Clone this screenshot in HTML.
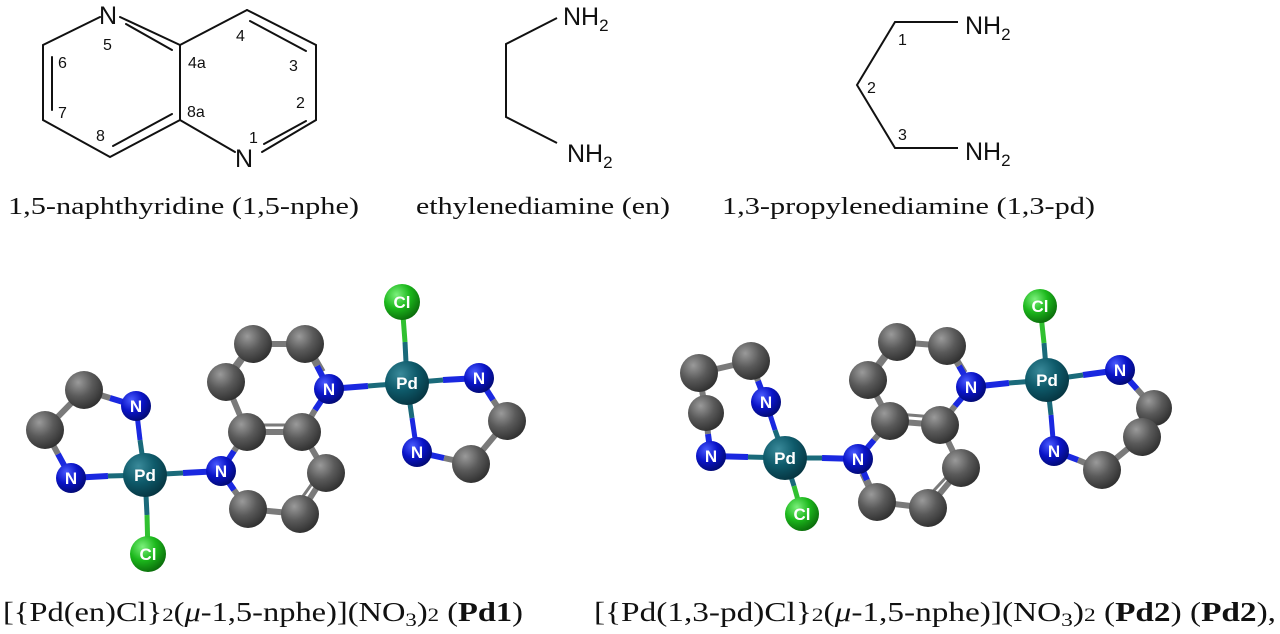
<!DOCTYPE html>
<html><head><meta charset="utf-8"><style>
html,body{margin:0;padding:0;background:#fff;}
svg{display:block;}
.t{font-family:"Liberation Serif","Times New Roman",serif;fill:#111;}
.s{font-family:"Liberation Sans",sans-serif;fill:#111;}
.lab{font-family:"Liberation Sans",sans-serif;font-weight:bold;fill:#fff;text-anchor:middle;}
</style></head><body>
<svg width="1280" height="634" viewBox="0 0 1280 634" xmlns="http://www.w3.org/2000/svg">
<defs>
<radialGradient id="gC" cx="0.35" cy="0.3" r="0.75"><stop offset="0" stop-color="#9a9a9a"/><stop offset="0.5" stop-color="#5a5a5a"/><stop offset="1" stop-color="#2e2e2e"/></radialGradient>
<radialGradient id="gN" cx="0.35" cy="0.3" r="0.75"><stop offset="0" stop-color="#4a5cff"/><stop offset="0.5" stop-color="#0a14c8"/><stop offset="1" stop-color="#020a70"/></radialGradient>
<radialGradient id="gP" cx="0.35" cy="0.3" r="0.75"><stop offset="0" stop-color="#3a8a9a"/><stop offset="0.5" stop-color="#0e5a6a"/><stop offset="1" stop-color="#063440"/></radialGradient>
<radialGradient id="gL" cx="0.35" cy="0.3" r="0.75"><stop offset="0" stop-color="#7cf07c"/><stop offset="0.5" stop-color="#1cb81c"/><stop offset="1" stop-color="#0a6a0a"/></radialGradient>
</defs>

<g stroke="#111" stroke-width="2" fill="none" stroke-linecap="round">
<polyline points="100,17 43,45 43,120 110,157 180,120 235,152"/>
<line x1="120" y1="17" x2="180" y2="45"/>
<line x1="180" y1="45" x2="180" y2="120"/>
<line x1="180" y1="45" x2="247" y2="10"/>
<polyline points="247,10 316,45 316,120 262,152"/>
<line x1="126" y1="24" x2="172" y2="50"/>
<line x1="52" y1="57" x2="52" y2="110"/>
<line x1="113" y1="146" x2="172" y2="114"/>
<line x1="250" y1="21" x2="306" y2="51"/>
<line x1="264" y1="144" x2="306" y2="121"/>
</g>
<g class="s">
<text x="99" y="24" font-size="25">N</text>
<text x="235" y="167" font-size="25">N</text>
<text x="103" y="50" font-size="16">5</text>
<text x="58" y="68" font-size="16">6</text>
<text x="58" y="118" font-size="16">7</text>
<text x="96" y="141" font-size="16">8</text>
<text x="188" y="68" font-size="16">4a</text>
<text x="187" y="117" font-size="16">8a</text>
<text x="236" y="41" font-size="16">4</text>
<text x="289" y="71" font-size="16">3</text>
<text x="296" y="108" font-size="16">2</text>
<text x="249" y="143" font-size="16">1</text>
</g>

<polyline points="557,18 506,44 506,117 557,143" stroke="#111" stroke-width="2" fill="none"/>
<text class="s" x="563" y="25" font-size="25">NH<tspan font-size="17" dy="6">2</tspan></text>
<text class="s" x="567" y="162" font-size="25">NH<tspan font-size="17" dy="6">2</tspan></text>

<polyline points="958,22 895,22 857,85 895,148 958,148" stroke="#111" stroke-width="2" fill="none"/>
<text class="s" x="965" y="34" font-size="25">NH<tspan font-size="17" dy="6">2</tspan></text>
<text class="s" x="965" y="160" font-size="25">NH<tspan font-size="17" dy="6">2</tspan></text>
<text class="s" x="898" y="45" font-size="16">1</text>
<text class="s" x="867" y="93" font-size="16">2</text>
<text class="s" x="898" y="140" font-size="16">3</text>

<g class="t" font-size="24">
<text x="8" y="214" textLength="351" lengthAdjust="spacingAndGlyphs">1,5-naphthyridine (1,5-nphe)</text>
<text x="416" y="214" textLength="254" lengthAdjust="spacingAndGlyphs">ethylenediamine (en)</text>
<text x="722" y="214" textLength="373" lengthAdjust="spacingAndGlyphs">1,3-propylenediamine (1,3-pd)</text>
</g>

<g stroke-linecap="butt" stroke-width="6">
<g stroke="#7a7a7a">
<line x1="253" y1="344" x2="305" y2="344"/>
<line x1="253" y1="344" x2="226" y2="382"/>
<line x1="226" y1="382" x2="247" y2="432"/>
<line x1="247" y1="432" x2="302" y2="432"/>
<line x1="302" y1="432" x2="326" y2="473"/>
<line x1="326" y1="473" x2="300" y2="514"/>
<line x1="300" y1="514" x2="248" y2="509"/>
<line x1="84" y1="390" x2="45" y2="430"/>
<line x1="507" y1="421" x2="471" y2="464"/>
<line x1="305" y1="344" x2="317" y2="366"/>
<line x1="247" y1="432" x2="234" y2="451"/>
<line x1="302" y1="432" x2="315" y2="410"/>
<line x1="248" y1="509" x2="234" y2="490"/>
<line x1="84" y1="390" x2="110" y2="398"/>
<line x1="45" y1="430" x2="58" y2="454"/>
<line x1="507" y1="421" x2="493" y2="400"/>
<line x1="471" y1="464" x2="444" y2="458"/>
</g>
<g stroke="#7a7a7a" stroke-width="3">
<line x1="240" y1="357" x2="223" y2="380"/>
<line x1="254" y1="425" x2="296" y2="425"/>
<line x1="316" y1="478" x2="296" y2="506"/>
<line x1="241" y1="499" x2="230" y2="485"/>
<line x1="313" y1="352" x2="324" y2="371"/>
</g>
<g stroke="#1a28e0">
<line x1="317" y1="366" x2="329" y2="389"/>
<line x1="315" y1="410" x2="329" y2="389"/>
<line x1="234" y1="451" x2="221" y2="471"/>
<line x1="234" y1="490" x2="221" y2="471"/>
<line x1="110" y1="398" x2="136" y2="406"/>
<line x1="58" y1="454" x2="71" y2="478"/>
<line x1="493" y1="400" x2="479" y2="378"/>
<line x1="444" y1="458" x2="417" y2="452"/>
<line x1="329" y1="389" x2="368" y2="386"/>
<line x1="221" y1="471" x2="183" y2="473"/>
<line x1="71" y1="478" x2="108" y2="476"/>
<line x1="479" y1="378" x2="443" y2="380"/>
</g>
<g stroke="#1a6a7a" stroke-width="5">
<line x1="368" y1="386" x2="407" y2="383"/>
<line x1="183" y1="473" x2="145" y2="475"/>
<line x1="108" y1="476" x2="145" y2="475"/>
<line x1="443" y1="380" x2="407" y2="383"/>
<line x1="407" y1="383" x2="405" y2="342"/>
<line x1="145" y1="475" x2="147" y2="515"/>
<line x1="407" y1="383" x2="412" y2="418"/>
<line x1="145" y1="475" x2="140" y2="440"/>
</g>
<g stroke="#1a28e0" stroke-width="5">
<line x1="412" y1="418" x2="417" y2="452"/>
<line x1="140" y1="440" x2="136" y2="406"/>
</g>
<g stroke="#30c030" stroke-width="5">
<line x1="405" y1="342" x2="402" y2="302"/>
<line x1="147" y1="515" x2="148" y2="554"/>
</g>
</g>

<g stroke-linecap="butt" stroke-width="6">
<g stroke="#7a7a7a">
<line x1="897" y1="342" x2="947" y2="346"/>
<line x1="897" y1="342" x2="868" y2="380"/>
<line x1="868" y1="380" x2="890" y2="421"/>
<line x1="890" y1="421" x2="940" y2="425"/>
<line x1="940" y1="425" x2="961" y2="468"/>
<line x1="961" y1="468" x2="928" y2="508"/>
<line x1="928" y1="508" x2="877" y2="502"/>
<line x1="751" y1="361" x2="699" y2="373"/>
<line x1="699" y1="373" x2="706" y2="413"/>
<line x1="1154" y1="408" x2="1142" y2="437"/>
<line x1="1142" y1="437" x2="1102" y2="470"/>
<line x1="947" y1="346" x2="959" y2="366"/>
<line x1="890" y1="421" x2="874" y2="440"/>
<line x1="940" y1="425" x2="955" y2="406"/>
<line x1="877" y1="502" x2="867" y2="480"/>
<line x1="751" y1="361" x2="758" y2="381"/>
<line x1="706" y1="413" x2="708" y2="434"/>
<line x1="1154" y1="408" x2="1137" y2="389"/>
<line x1="1102" y1="470" x2="1078" y2="460"/>
</g>
<g stroke="#7a7a7a" stroke-width="3">
<line x1="884" y1="354" x2="866" y2="378"/>
<line x1="897" y1="414" x2="934" y2="417"/>
<line x1="951" y1="472" x2="925" y2="500"/>
<line x1="870" y1="493" x2="861" y2="474"/>
<line x1="955" y1="354" x2="966" y2="372"/>
</g>
<g stroke="#1a28e0">
<line x1="959" y1="366" x2="971" y2="387"/>
<line x1="955" y1="406" x2="971" y2="387"/>
<line x1="874" y1="440" x2="858" y2="459"/>
<line x1="867" y1="480" x2="858" y2="459"/>
<line x1="758" y1="381" x2="766" y2="402"/>
<line x1="708" y1="434" x2="711" y2="456"/>
<line x1="1137" y1="389" x2="1120" y2="370"/>
<line x1="1078" y1="460" x2="1054" y2="451"/>
<line x1="971" y1="387" x2="1009" y2="383"/>
<line x1="858" y1="459" x2="822" y2="458"/>
<line x1="711" y1="456" x2="748" y2="457"/>
<line x1="1120" y1="370" x2="1083" y2="375"/>
</g>
<g stroke="#1a6a7a" stroke-width="5">
<line x1="1009" y1="383" x2="1047" y2="380"/>
<line x1="822" y1="458" x2="785" y2="458"/>
<line x1="748" y1="457" x2="785" y2="458"/>
<line x1="1083" y1="375" x2="1047" y2="380"/>
<line x1="1047" y1="380" x2="1044" y2="343"/>
<line x1="785" y1="458" x2="794" y2="486"/>
<line x1="1047" y1="380" x2="1051" y2="415"/>
<line x1="785" y1="458" x2="775" y2="430"/>
</g>
<g stroke="#1a28e0" stroke-width="5">
<line x1="1051" y1="415" x2="1054" y2="451"/>
<line x1="775" y1="430" x2="766" y2="402"/>
</g>
<g stroke="#30c030" stroke-width="5">
<line x1="1044" y1="343" x2="1040" y2="306"/>
<line x1="794" y1="486" x2="802" y2="514"/>
</g>
</g>

<g fill="url(#gC)">
<circle cx="253" cy="344" r="19"/><circle cx="305" cy="344" r="19"/><circle cx="226" cy="382" r="19"/>
<circle cx="247" cy="432" r="19"/><circle cx="302" cy="432" r="19"/><circle cx="326" cy="473" r="19"/>
<circle cx="300" cy="514" r="19"/><circle cx="248" cy="509" r="19"/>
<circle cx="84" cy="390" r="19"/><circle cx="45" cy="430" r="19"/>
<circle cx="507" cy="421" r="19"/><circle cx="471" cy="464" r="19"/>
</g>
<g fill="url(#gN)">
<circle cx="329" cy="389" r="15"/><circle cx="221" cy="471" r="15"/><circle cx="136" cy="406" r="15"/>
<circle cx="71" cy="478" r="15"/><circle cx="479" cy="378" r="15"/><circle cx="417" cy="452" r="15"/>
</g>
<circle cx="407" cy="383" r="22" fill="url(#gP)"/>
<circle cx="145" cy="475" r="22" fill="url(#gP)"/>
<circle cx="402" cy="302" r="18" fill="url(#gL)"/>
<circle cx="148" cy="554" r="18" fill="url(#gL)"/>
<g class="lab" font-size="17">
<text x="329" y="395">N</text><text x="221" y="477">N</text><text x="136" y="412">N</text>
<text x="71" y="484">N</text><text x="479" y="384">N</text><text x="417" y="458">N</text>
<text x="407" y="389">Pd</text><text x="145" y="481">Pd</text>
<text x="402" y="308">Cl</text><text x="148" y="560">Cl</text>
</g>

<g fill="url(#gC)">
<circle cx="897" cy="342" r="19"/><circle cx="947" cy="346" r="19"/><circle cx="868" cy="380" r="19"/>
<circle cx="890" cy="421" r="19"/><circle cx="940" cy="425" r="19"/><circle cx="961" cy="468" r="19"/>
<circle cx="928" cy="508" r="19"/><circle cx="877" cy="502" r="19"/>
<circle cx="751" cy="361" r="19"/><circle cx="699" cy="373" r="19"/><circle cx="706" cy="413" r="18"/>
<circle cx="1154" cy="408" r="18"/><circle cx="1142" cy="437" r="19"/><circle cx="1102" cy="470" r="19"/>
</g>
<g fill="url(#gN)">
<circle cx="971" cy="387" r="15"/><circle cx="858" cy="459" r="15"/><circle cx="766" cy="402" r="15"/>
<circle cx="711" cy="456" r="15"/><circle cx="1120" cy="370" r="15"/><circle cx="1054" cy="451" r="15"/>
</g>
<circle cx="1047" cy="380" r="22" fill="url(#gP)"/>
<circle cx="785" cy="458" r="22" fill="url(#gP)"/>
<circle cx="1040" cy="306" r="17" fill="url(#gL)"/>
<circle cx="802" cy="514" r="17" fill="url(#gL)"/>
<g class="lab" font-size="17">
<text x="971" y="393">N</text><text x="858" y="465">N</text><text x="766" y="408">N</text>
<text x="711" y="462">N</text><text x="1120" y="376">N</text><text x="1054" y="457">N</text>
<text x="1047" y="386">Pd</text><text x="785" y="464">Pd</text>
<text x="1040" y="312">Cl</text><text x="802" y="520">Cl</text>
</g>

<g class="t" font-size="27">
<text x="3" y="621" textLength="520" lengthAdjust="spacingAndGlyphs">[{Pd(en)Cl}<tspan font-size="19">2</tspan>(<tspan font-style="italic">μ</tspan>-1,5-nphe)](NO<tspan font-size="19" dy="5">3</tspan><tspan dy="-5">)</tspan><tspan font-size="19">2</tspan> (<tspan font-weight="bold">Pd1</tspan>)</text>
<text x="594" y="621" textLength="682" lengthAdjust="spacingAndGlyphs">[{Pd(1,3-pd)Cl}<tspan font-size="19">2</tspan>(<tspan font-style="italic">μ</tspan>-1,5-nphe)](NO<tspan font-size="19" dy="5">3</tspan><tspan dy="-5">)</tspan><tspan font-size="19">2</tspan>  (<tspan font-weight="bold">Pd2</tspan>) (<tspan font-weight="bold">Pd2</tspan>),</text>
</g>
</svg>
</body></html>
